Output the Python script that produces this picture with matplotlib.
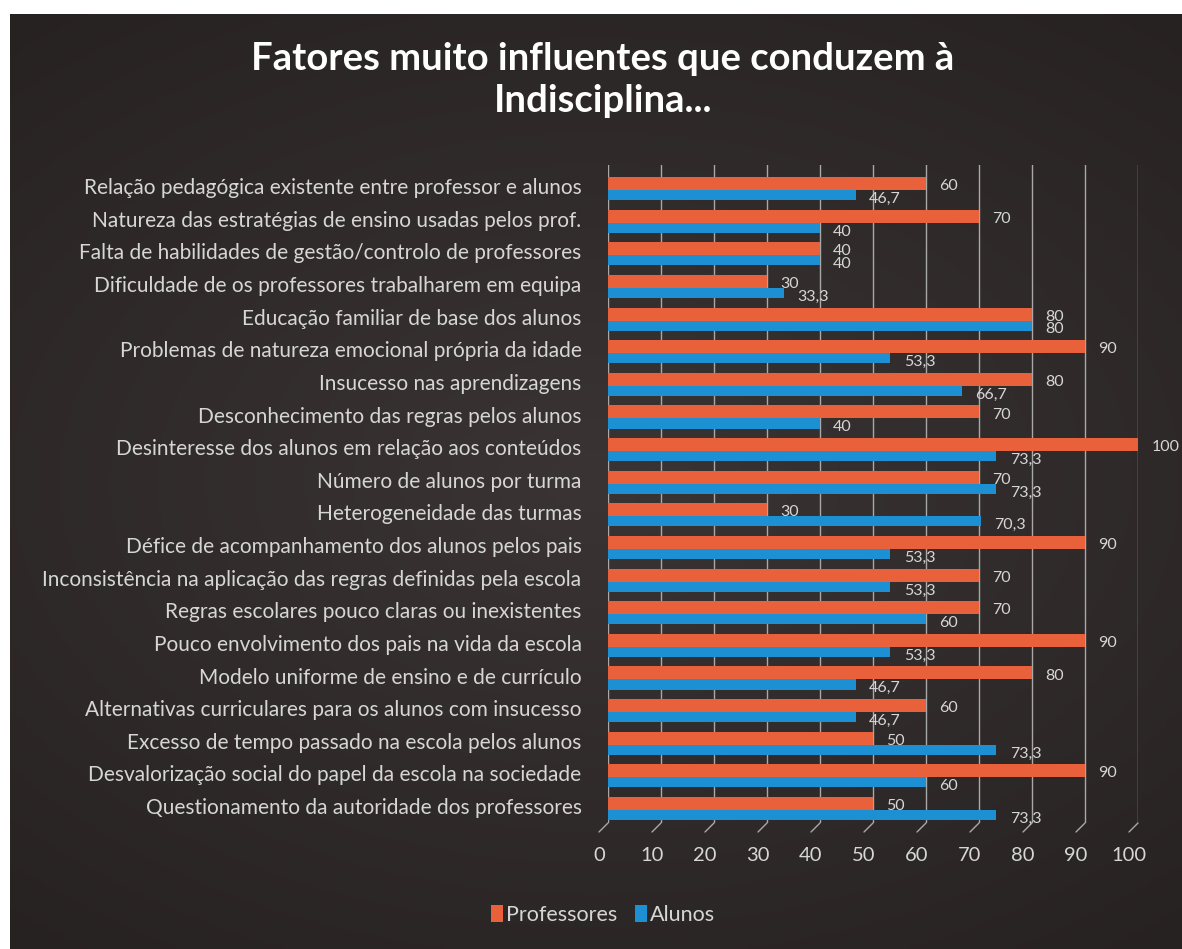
import numpy as np
import matplotlib
matplotlib.use("Agg")
import matplotlib.pyplot as plt
import matplotlib.transforms as mtransforms
from matplotlib.patches import Patch

categories = [
    "Relação pedagógica existente entre professor e alunos",
    "Natureza das estratégias de ensino usadas pelos prof.",
    "Falta de habilidades de gestão/controlo de professores",
    "Dificuldade de os professores trabalharem em equipa",
    "Educação familiar de base dos alunos",
    "Problemas de natureza emocional própria da idade",
    "Insucesso nas aprendizagens",
    "Desconhecimento das regras pelos alunos",
    "Desinteresse dos alunos em relação aos conteúdos",
    "Número de alunos por turma",
    "Heterogeneidade das turmas",
    "Défice de acompanhamento dos alunos pelos pais",
    "Inconsistência na aplicação das regras definidas pela escola",
    "Regras escolares pouco claras ou inexistentes",
    "Pouco envolvimento dos pais na vida da escola",
    "Modelo uniforme de ensino e de currículo",
    "Alternativas curriculares para os alunos com insucesso",
    "Excesso de tempo passado na escola pelos alunos",
    "Desvalorização social do papel da escola na sociedade",
    "Questionamento da autoridade dos professores",
]
professores = [60, 70, 40, 30, 80, 90, 80, 70, 100, 70, 30, 90, 70, 70, 90, 80, 60, 50, 90, 50]
alunos = [46.7, 40, 40, 33.3, 80, 53.3, 66.7, 40, 73.3, 73.3, 70.3, 53.3, 53.3, 60, 53.3, 46.7, 46.7, 73.3, 60, 73.3]
x_ticks = [0, 10, 20, 30, 40, 50, 60, 70, 80, 90, 100]
series_names = ["Professores", "Alunos"]
title = "Fatores muito influentes que conduzem à\nIndisciplina..."

ORANGE = "#e8613a"
BLUE = "#1d8fd3"
TXT = "#d6d6d6"
GRID = "#a8a8a8"
FONT = "Lato"

W, H = 1182, 949
fig = plt.figure(figsize=(W / 100, H / 100), dpi=100, facecolor="white")

# dark background with soft radial gradient
bg = fig.add_axes([10 / W, 0, 1 - 10 / W, 935 / H])
yy, xx = np.mgrid[-1:1:300j, -1:1:300j]
r = np.sqrt((xx * 0.9) ** 2 + (yy * 1.1) ** 2)
g = np.clip(1 - r / 1.5, 0, 1)
c0 = np.array([0x25, 0x21, 0x20]) / 255
c1 = np.array([0x3a, 0x35, 0x34]) / 255
img = c0[None, None, :] + (c1 - c0)[None, None, :] * g[:, :, None]
bg.imshow(img, aspect="auto", extent=[0, 1, 0, 1])
bg.set_axis_off()

# main axes: x 0..100 -> px 608..1138, y px 165..823
L, R, T, B = 608, 1138, 165, 823
ax = fig.add_axes([L / W, 1 - B / H, (R - L) / W, (B - T) / H])
ax.set_facecolor("none")
n = len(categories)
y = np.arange(n)
ax.set_xlim(0, 100)
ax.set_ylim(n - 1 + 0.4, -0.77)

ax.barh(y - 0.2, professores, height=0.4, color=ORANGE, zorder=3)
ax.barh(y + 0.155, alunos, height=0.31, color=BLUE, zorder=3)

def fmt(v):
    return f"{v:g}".replace(".", ",")

for yi, p, a in zip(y, professores, alunos):
    ax.text(p + 2.5, yi - 0.12, fmt(p), color=TXT, fontsize=11.5, family=FONT,
            ha="left", va="center", zorder=4, clip_on=False)
    ax.text(a + 2.5, yi + 0.27, fmt(a), color=TXT, fontsize=11.5, family=FONT,
            ha="left", va="center", zorder=4, clip_on=False)

# grid lines + 3D floor slants
for t in x_ticks:
    ax.axvline(t, color=GRID, lw=1.0, zorder=1)
    ax.annotate("", xy=(t, 0), xycoords=ax.get_xaxis_transform(),
                xytext=(-9, -9), textcoords="offset pixels",
                arrowprops=dict(arrowstyle="-", color=GRID, lw=1.0,
                                shrinkA=0, shrinkB=0))

for s in ax.spines.values():
    s.set_visible(False)

ax.set_yticks(y - 0.12)
ax.set_yticklabels(categories, fontsize=15, color=TXT, family=FONT)
ax.tick_params(axis="y", length=0, pad=19)
ax.set_xticks(x_ticks)
ax.set_xticklabels([str(t) for t in x_ticks], fontsize=14.5, color=TXT, family=FONT)
ax.tick_params(axis="x", length=0, pad=17)
shift = mtransforms.ScaledTranslation(-9 / 100, 0, fig.dpi_scale_trans)
for lab in ax.get_xticklabels():
    lab.set_transform(lab.get_transform() + shift)

fig.text(603 / W, 1 - 80 / H, title, ha="center", va="center", color="white",
         fontsize=27.5, fontweight="bold", family=FONT, linespacing=1.25)

handles = [Patch(facecolor=ORANGE, edgecolor="none"), Patch(facecolor=BLUE, edgecolor="none")]
leg = fig.legend(handles, series_names, loc="center", bbox_to_anchor=(603 / W, 1 - 915 / H),
                 ncol=2, frameon=False, handlelength=0.55, handleheight=0.8,
                 handletextpad=0.15, columnspacing=0.8,
                 prop={"family": FONT, "size": 15.5})
for txt in leg.get_texts():
    txt.set_color(TXT)

fig.savefig("out.png", dpi=100, facecolor=fig.get_facecolor())
